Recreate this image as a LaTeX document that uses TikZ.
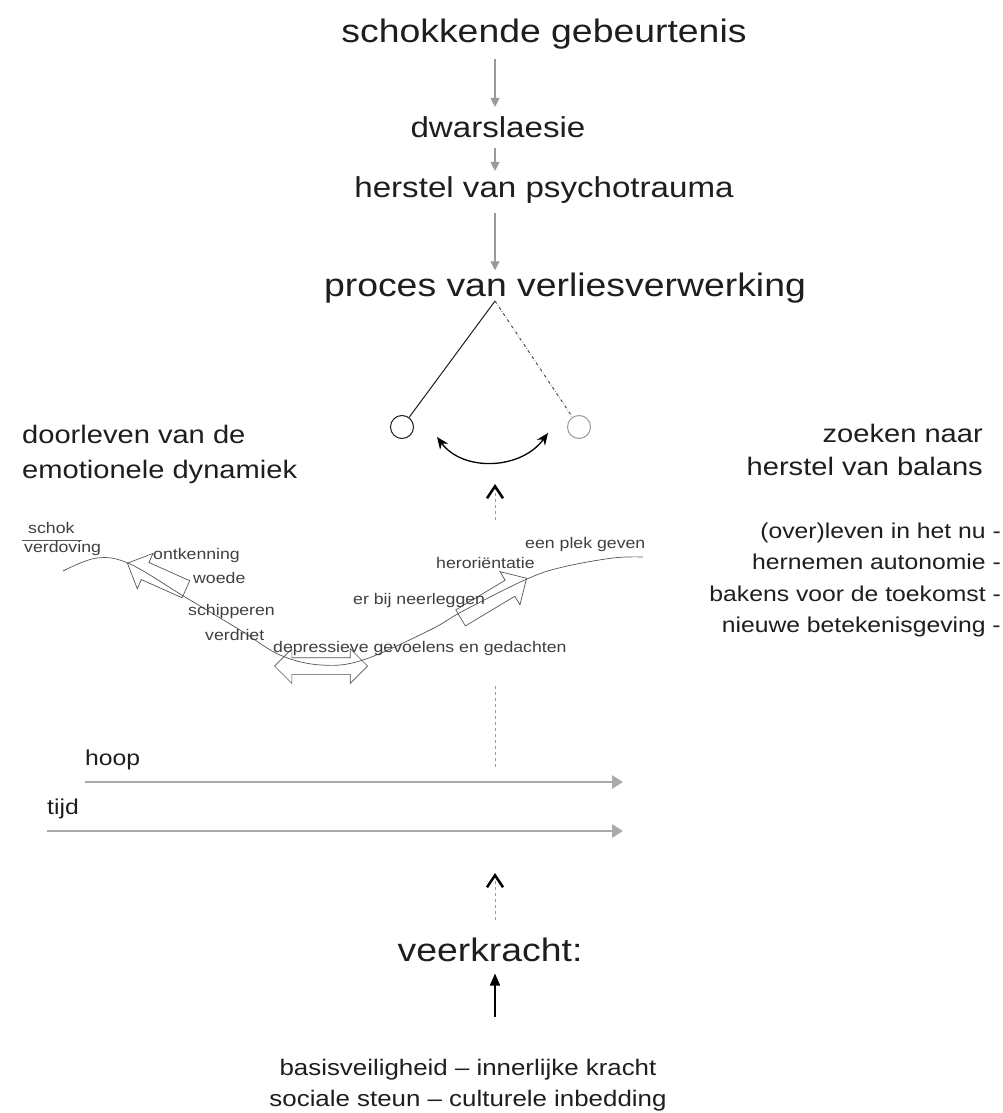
\documentclass[tikz,border=0pt]{standalone}
\usepackage{fontspec}
\setmainfont{Liberation Sans}[FakeStretch=1.15]
\usetikzlibrary{arrows.meta,shapes.arrows,calc}
\definecolor{InkGray}{HTML}{1E1E1E}
\definecolor{FlowGray}{HTML}{9A9A9A}
\definecolor{CurveGray}{HTML}{555555}
\definecolor{TimeGray}{HTML}{AAAAAA}
\newcommand\fsTitle{\fontsize{32.5}{38}\selectfont}
\newcommand\fsMid{\fontsize{28.8}{34}\selectfont}
\newcommand\fsHead{\fontsize{25.3}{30}\selectfont}
\newcommand\fsList{\fontsize{21.5}{26}\selectfont}
\newcommand\fsBase{\fontsize{22.5}{27}\selectfont}
\newcommand\fsSmall{\fontsize{15.4}{18}\selectfont}
\tikzset{
    bigtext/.style = {font=\fsTitle, text=InkGray, inner sep=2pt},
    midtext/.style = {font=\fsMid, text=InkGray, inner sep=2pt},
    headtext/.style = {font=\fsHead, text=InkGray, inner sep=0pt},
    listtext/.style = {font=\fsList, text=InkGray, inner sep=0pt},
    basetext/.style = {font=\fsBase, text=InkGray, inner sep=0pt},
    smalltext/.style = {font=\fsSmall, text=InkGray!85, inner sep=0pt},
    flow/.style = {draw=FlowGray, line width=1.2pt, -{Triangle[length=9pt,width=9pt]}},
    timeline/.style = {draw=TimeGray, line width=2.8pt, -{Triangle[length=11pt,width=13pt]}},
    hollow/.style = {single arrow, draw=CurveGray, line width=0.7pt, inner xsep=0pt, inner ysep=9pt, single arrow head extend=10pt},
    hollowtwo/.style = {double arrow, draw=CurveGray, line width=0.7pt, inner xsep=0pt, inner ysep=8pt, double arrow head extend=9pt},
    wave/.style = {draw=CurveGray, line width=0.7pt},
    vee/.style = {draw=FlowGray, dashed, line width=0.7pt, -{Straight Barb[length=12pt,width=16pt,line width=2.5pt,color=black]}},
    swing/.style = {draw=black, line width=1.3pt, {Stealth[length=12pt,width=10pt]}-{Stealth[length=12pt,width=10pt]}},
    bob/.style = {circle, line width=1pt, minimum size=23pt, inner sep=0pt}
}

\begin{document}
\begin{tikzpicture}[x=1pt,y=-1pt]
    \useasboundingbox[fill=white] (0,0) rectangle (1002,1113);
    % top chain
    \coordinate (axis) at (495,0);
    \node[bigtext, anchor=base] (shock) at (544,43) {schokkende gebeurtenis};
    \node[midtext, anchor=base] (lesion) at (498,137) {dwarslaesie};
    \node[midtext, anchor=base] (trauma) at (544,197) {herstel van psychotrauma};
    \node[bigtext, anchor=base] (loss) at (565,296) {proces van verliesverwerking};
    \draw[flow, shorten <=7pt, shorten >=7pt] (shock.south -| axis) -- (lesion.north -| axis);
    \draw[flow, shorten <=9pt, shorten >=3pt] (lesion.south -| axis) -- (trauma.north -| axis);
    \draw[flow, shorten <=8pt] (trauma.south -| axis) -- (loss.north -| axis);
    % pendulum
    \coordinate (pivot) at (495,301);
    \node[bob, draw=InkGray] (heavy) at (402,427) {};
    \node[bob, draw=FlowGray] (light) at (579,427) {};
    \draw[InkGray, line width=1pt] (pivot) -- (heavy);
    \draw[CurveGray, dash dot, line width=1pt] (pivot) -- (light);
    \coordinate (swingL) at (437,437);
    \coordinate (swingR) at (548,433);
    \draw[swing] (swingL) .. controls (463,472) and (521,470) .. (swingR);
    \coordinate (gapTop) at (495,484);
    \coordinate (gapBot) at (495,520);
    \draw[vee] (gapBot) -- (gapTop);
    % side headings
    \node[headtext, anchor=base west] (grief1) at (22,443) {doorleven van de};
    \node[headtext, anchor=base west] (grief2) at (22,478) {emotionele dynamiek};
    \node[headtext, anchor=base east] (seek1) at (983,442) {zoeken naar};
    \node[headtext, anchor=base east] (seek2) at (983,475) {herstel van balans};
    \node[listtext, anchor=base east] (now) at (1001,538) {(over)leven in het nu -};
    \node[listtext, anchor=base east] (auto) at (1001,569) {hernemen autonomie -};
    \node[listtext, anchor=base east] (beacon) at (1001,601) {bakens voor de toekomst -};
    \node[listtext, anchor=base east] (meaning) at (1001,632) {nieuwe betekenisgeving -};
    % grief curve
    \draw[wave] plot[smooth, tension=0.6] coordinates {(63,571) (97,558) (130,564) (185,597) (240,630) (280,655) (321,665) (363,660) (430,630) (463,611) (527,579) (563,567) (613,558) (643,557)};
    \draw[wave] (22,540) -- (82,540);
    \node[hollow, minimum height=64pt, rotate=156, anchor=tip] (denial) at (127,563) {};
    \node[hollow, minimum height=77pt, rotate=31, anchor=tip] (accept) at (527,578) {};
    \node[hollowtwo, minimum height=93pt] (depress) at (321,666) {};
    \node[smalltext, anchor=base west] (shockl) at (28,533) {schok};
    \node[smalltext, anchor=base west] (numb) at (24,552) {verdoving};
    \node[smalltext, anchor=base west] (deny) at (153,559) {ontkenning};
    \node[smalltext, anchor=base west] (anger) at (193,583) {woede};
    \node[smalltext, anchor=base west] (bargain) at (188,615) {schipperen};
    \node[smalltext, anchor=base west] (sorrow) at (205,640) {verdriet};
    \node[smalltext, anchor=base west] (gloom) at (273,652) {depressieve gevoelens en gedachten};
    \node[smalltext, anchor=base west] (resign) at (353,604) {er bij neerleggen};
    \node[smalltext, anchor=base west] (reorient) at (436,568) {heroriëntatie};
    \node[smalltext, anchor=base west] (place) at (525,548) {een plek geven};
    % time axes
    \draw[FlowGray, dashed, line width=0.7pt] (495,686) -- (495,770);
    \node[listtext, anchor=base west] (hope) at (85,765) {hoop};
    \node[listtext, anchor=base west] (time) at (47,814) {tijd};
    \coordinate (hopeEnd) at (623,782);
    \coordinate (timeEnd) at (623,831);
    \draw[timeline] (85,782) -- (hopeEnd);
    \draw[timeline] (47,831) -- (timeEnd);
    % resilience
    \node[bigtext, anchor=base] (resil) at (490,961) {veerkracht:};
    \draw[vee] (495,920) -- (495,873);
    \node[basetext, anchor=base] (base1) at (468,1075) {basisveiligheid – innerlijke kracht};
    \node[basetext, anchor=base] (base2) at (468,1106) {sociale steun – culturele inbedding};
    \draw[black, line width=1.5pt, -{Triangle[length=12pt,width=10pt]}, shorten <=42pt, shorten >=10pt] (base1.north -| axis) -- (resil.south -| axis);
\end{tikzpicture}
\end{document}
